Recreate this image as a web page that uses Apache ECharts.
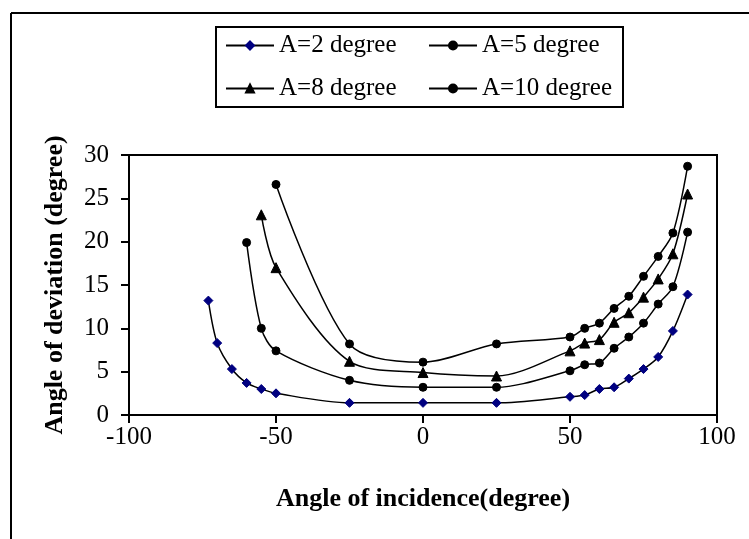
<!DOCTYPE html>
<html>
<head>
<meta charset="utf-8">
<script src="https://cdn.jsdelivr.net/npm/echarts@6/dist/echarts.min.js"></script>
<style>
  html, body { margin: 0; padding: 0; background: #fff; }
  #main { width: 749px; height: 539px; }
</style>
</head>
<body>
<div id="main"></div>
<script>
// angle of incidence (degree) -> angle of deviation (degree)
var a2 = [[-73, 13.2], [-70, 8.3], [-65, 5.3], [-60, 3.7], [-55, 3.0], [-50, 2.5], [-25, 1.4],
          [0, 1.4], [25, 1.4], [50, 2.1], [55, 2.3], [60, 3.0], [65, 3.2], [70, 4.2],
          [75, 5.3], [80, 6.7], [85, 9.7], [90, 13.9]];
var a5 = [[-60, 19.9], [-55, 10.0], [-50, 7.4], [-25, 4.0], [0, 3.2], [25, 3.2], [50, 5.1],
          [55, 5.8], [60, 6.0], [65, 7.7], [70, 9.0], [75, 10.6], [80, 12.8], [85, 14.8], [90, 21.1]];
var a8 = [[-55, 23.1], [-50, 17.0], [-25, 6.2], [0, 4.9], [25, 4.5], [50, 7.4], [55, 8.3],
          [60, 8.7], [65, 10.7], [70, 11.8], [75, 13.6], [80, 15.7], [85, 18.6], [90, 25.5]];
var a10 = [[-50, 26.6], [-25, 8.2], [0, 6.1], [25, 8.2], [50, 9.0], [55, 10.0], [60, 10.6],
           [65, 12.3], [70, 13.7], [75, 16.0], [80, 18.3], [85, 21.0], [90, 28.7]];
var xTicks = [-100, 100, 50];
var yTicks = [0, 30, 5];

var font = 'Liberation Serif, Times New Roman, serif';

function mk(name, data, symbol, size, color) {
  return {
    name: name,
    type: 'line',
    data: data,
    smooth: 0.3,
    symbol: symbol,
    symbolSize: size,
    showSymbol: true,
    lineStyle: { color: '#000', width: 1.5 },
    itemStyle: { color: color, borderColor: color, borderWidth: 1 },
    emphasis: { disabled: true },
    z: 3
  };
}

var chart = echarts.init(document.getElementById('main'));
var legendText = { fontFamily: font, fontSize: 25, color: '#000' };
chart.setOption({
  animation: false,
  backgroundColor: '#fff',
  grid: { left: 129, right: 32, top: 155, bottom: 124, show: true, borderColor: '#000', borderWidth: 2 },
  legend: [
    { left: 220, top: 28, padding: 5, orient: 'vertical', itemGap: 18, itemWidth: 48, itemHeight: 10,
      data: ['A=2 degree', 'A=8 degree'], textStyle: legendText },
    { left: 423, top: 28, padding: 5, orient: 'vertical', itemGap: 18, itemWidth: 48, itemHeight: 10,
      data: ['A=5 degree', 'A=10 degree'], textStyle: legendText }
  ],
  graphic: [
    { type: 'rect', shape: { x: 216, y: 27, width: 407, height: 80 },
      style: { fill: 'none', stroke: '#000', lineWidth: 2 } },
    { type: 'line', shape: { x1: 11, y1: 13, x2: 11, y2: 539 }, style: { stroke: '#000', lineWidth: 2 } },
    { type: 'line', shape: { x1: 11, y1: 13, x2: 749, y2: 13 }, style: { stroke: '#000', lineWidth: 2 } }
  ],
  xAxis: {
    type: 'value', min: xTicks[0], max: xTicks[1], interval: xTicks[2],
    name: 'Angle of incidence(degree)', nameLocation: 'middle', nameGap: 71,
    nameTextStyle: { fontFamily: font, fontSize: 26, fontWeight: 'bold', color: '#000' },
    axisLine: { onZero: false, lineStyle: { color: '#000', width: 2 } },
    axisTick: { inside: false, length: 8, lineStyle: { color: '#000', width: 2 } },
    axisLabel: { fontFamily: font, fontSize: 25, color: '#000', margin: 10 },
    splitLine: { show: false }
  },
  yAxis: {
    type: 'value', min: yTicks[0], max: yTicks[1], interval: yTicks[2],
    name: 'Angle of deviation (degree)', nameLocation: 'middle', nameGap: 61,
    nameTextStyle: { fontFamily: font, fontSize: 26, fontWeight: 'bold', color: '#000' },
    axisLine: { onZero: false, lineStyle: { color: '#000', width: 2 } },
    axisTick: { inside: false, length: 8, lineStyle: { color: '#000', width: 2 } },
    axisLabel: { fontFamily: font, fontSize: 25, color: '#000', margin: 20 },
    splitLine: { show: false }
  },
  series: [
    mk('A=2 degree', a2, 'diamond', 9, '#000080'),
    mk('A=5 degree', a5, 'circle', 8, '#000'),
    mk('A=8 degree', a8, 'triangle', 10, '#000'),
    mk('A=10 degree', a10, 'circle', 8, '#000')
  ]
});
</script>
</body>
</html>
